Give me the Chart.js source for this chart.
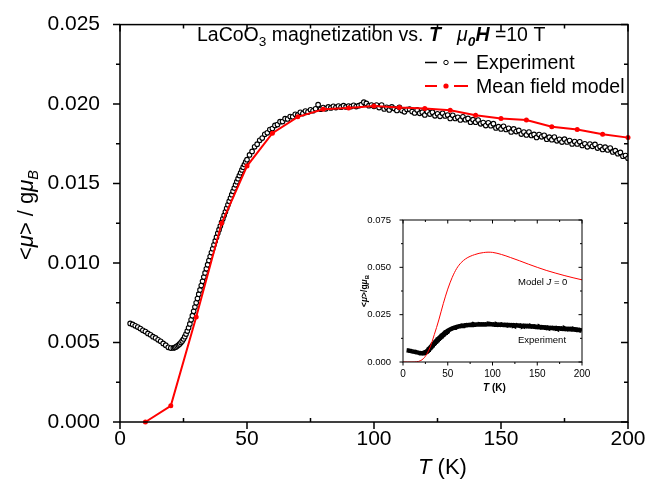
<!DOCTYPE html>
<html>
<head>
<meta charset="utf-8">
<script src="https://cdn.jsdelivr.net/npm/chart.js@4.4.0/dist/chart.umd.min.js"></script>
<style>
  html, body { margin: 0; padding: 0; background: #fff; }
  #wrap { position: relative; width: 646px; height: 483px; }
  #main { position: absolute; left: 0; top: 0; }
  #inset { position: absolute; left: 355px; top: 205px; }
</style>
</head>
<body>
<div id="wrap">
  <canvas id="main" width="646" height="483"></canvas>
  <canvas id="inset" width="245" height="195"></canvas>
</div>
<script>
// ---- Measured magnetization of LaCoO3 at 10 T (temperature in K, <mu>/g mu_B) ----
const expT = [
  4, 5, 6, 7, 8, 9, 10, 11, 12, 13, 14, 15, 16, 17, 18, 19, 20, 21,
  21.5, 22, 22.5, 23, 23.5, 24, 24.5, 25, 25.5, 26, 26.5, 27, 27.5, 28, 28.5, 29, 29.5,
  30, 30.5, 31, 31.5, 32, 32.5, 33, 33.5, 34, 34.5, 35, 35.5, 36, 36.5, 37, 37.5,
  38, 38.5, 39, 39.5, 40, 40.5, 41, 41.5, 42, 42.5, 43, 43.5, 44, 44.5, 45, 45.5,
  46, 46.5, 47, 47.5, 48, 48.5, 49, 49.5, 50,
  51, 52, 53, 54, 55, 56, 57, 58, 59, 60, 61, 62, 63, 64, 65, 66, 67, 68, 69, 70,
  71, 72, 73, 74, 75, 76, 77, 78, 79, 80, 81, 82, 83, 84, 85, 86, 87, 88, 89, 90,
  91, 92, 93, 94, 95, 96, 97, 98, 99, 100, 101, 102, 103, 104, 105, 106, 107, 108, 109, 110,
  111, 112, 113, 114, 115, 116, 117, 118, 119, 120, 121, 122, 123, 124, 125, 126, 127, 128, 129, 130,
  131, 132, 133, 134, 135, 136, 137, 138, 139, 140, 141, 142, 143, 144, 145, 146, 147, 148, 149, 150,
  151, 152, 153, 154, 155, 156, 157, 158, 159, 160, 161, 162, 163, 164, 165, 166, 167, 168, 169, 170,
  171, 172, 173, 174, 175, 176, 177, 178, 179, 180, 181, 182, 183, 184, 185, 186, 187, 188, 189, 190,
  191, 192, 193, 194, 195, 196, 197, 198, 199, 200
];
const expM = [
  0.00620, 0.00614, 0.00605, 0.00597, 0.00588, 0.00577, 0.00569, 0.00557, 0.00549, 0.00537, 0.00529, 0.00517, 0.00508, 0.00494, 0.00483, 0.00470, 0.00465, 0.00466,
  0.00468, 0.00472, 0.00478, 0.00484, 0.00491, 0.00500, 0.00510, 0.00522, 0.00537, 0.00553, 0.00572, 0.00593, 0.00617, 0.00643, 0.00669, 0.00696, 0.00723,
  0.00750, 0.00777, 0.00804, 0.00831, 0.00858, 0.00885, 0.00912, 0.00938, 0.00964, 0.00990, 0.01016, 0.01041, 0.01066, 0.01090, 0.01115, 0.01139,
  0.01163, 0.01187, 0.01210, 0.01233, 0.01256, 0.01278, 0.01300, 0.01322, 0.01344, 0.01366, 0.01388, 0.01409, 0.01430, 0.01451, 0.01472, 0.01492,
  0.01512, 0.01531, 0.01550, 0.01568, 0.01586, 0.01603, 0.01620, 0.01636, 0.01650,
  0.01680, 0.01702, 0.01731, 0.01748, 0.01772, 0.01786, 0.01810, 0.01819, 0.01840, 0.01846, 0.01866, 0.01871, 0.01889, 0.01890, 0.01908, 0.01906, 0.01922, 0.01920, 0.01936, 0.01932,
  0.01948, 0.01940, 0.01956, 0.01950, 0.01964, 0.01958, 0.01970, 0.01996, 0.01968, 0.01978, 0.01970, 0.01982, 0.01976, 0.01986, 0.01978, 0.01988, 0.01980, 0.01990, 0.01982, 0.01988,
  0.01984, 0.01992, 0.01984, 0.01990, 0.01996, 0.02012, 0.02004, 0.01990, 0.01994, 0.01986, 0.01994, 0.01978, 0.01994, 0.01969, 0.01980, 0.01963, 0.01982, 0.01972, 0.01960, 0.01980,
  0.01959, 0.01951, 0.01966, 0.01968, 0.01953, 0.01944, 0.01963, 0.01942, 0.01949, 0.01932, 0.01952, 0.01937, 0.01949, 0.01926, 0.01939, 0.01923, 0.01942, 0.01925, 0.01931, 0.01910,
  0.01929, 0.01910, 0.01917, 0.01900, 0.01920, 0.01902, 0.01910, 0.01886, 0.01902, 0.01886, 0.01900, 0.01876, 0.01884, 0.01865, 0.01882, 0.01864, 0.01877, 0.01850, 0.01858, 0.01844,
  0.01860, 0.01840, 0.01848, 0.01825, 0.01844, 0.01827, 0.01834, 0.01811, 0.01824, 0.01806, 0.01824, 0.01803, 0.01809, 0.01790, 0.01808, 0.01794, 0.01804, 0.01779, 0.01792, 0.01776,
  0.01793, 0.01769, 0.01778, 0.01761, 0.01779, 0.01762, 0.01771, 0.01749, 0.01764, 0.01749, 0.01763, 0.01740, 0.01750, 0.01731, 0.01749, 0.01734, 0.01746, 0.01723, 0.01733, 0.01715,
  0.01729, 0.01711, 0.01723, 0.01699, 0.01707, 0.01688, 0.01696, 0.01672, 0.01676, 0.01660
];

// ---- Mean field model (10 K grid) ----
const modelT = [10, 20, 30, 40, 50, 60, 70, 80, 90, 100, 110, 120, 130, 140, 150, 160, 170, 180, 190, 200];
const modelM = [0, 0.00102, 0.0066, 0.0125, 0.0161, 0.01817, 0.0192, 0.01967, 0.01976, 0.01988,
                0.01978, 0.01972, 0.01961, 0.0193, 0.0191, 0.019, 0.01858, 0.0184, 0.0181, 0.01789];

// ---- Model with J = 0 (inset) ----
const zeroJT = [0, 5, 10, 15, 20, 25, 30, 35, 40, 45, 50, 55, 60, 65, 70, 75, 80, 85, 90, 95, 100,
                110, 120, 130, 140, 150, 160, 170, 180, 190, 200];
const zeroJM = [0, 0, 0, 0.0001, 0.0008, 0.003, 0.0075, 0.0145, 0.0222, 0.0308, 0.0385, 0.0447, 0.0494, 0.0525, 0.0545, 0.0558, 0.0567, 0.0574, 0.0578, 0.0580, 0.0579,
                0.0568, 0.0552, 0.0535, 0.0517, 0.0500, 0.0484, 0.0470, 0.0457, 0.0445, 0.0434];

// ---- Tick values ----
const mainXTicks = [0, 50, 100, 150, 200];
const mainYTicks = [0, 0.005, 0.010, 0.015, 0.020, 0.025];
const insetXTicks = [0, 50, 100, 150, 200];
const insetYTicks = [0, 0.025, 0.050, 0.075];

const FONT = "'Liberation Sans', Arial, Helvetica, sans-serif";
Chart.defaults.font.family = FONT;
Chart.defaults.color = '#000';

const pts = (xs, ys) => xs.map((x, i) => ({ x: x, y: ys[i] }));

function drawRich(ctx, x, y, parts) {
  for (const p of parts) {
    ctx.font = p.font;
    ctx.fillText(p.t, x, y + (p.dy || 0));
    x += ctx.measureText(p.t).width;
  }
}
function richWidth(ctx, parts) {
  let w = 0;
  for (const p of parts) { ctx.font = p.font; w += ctx.measureText(p.t).width; }
  return w;
}

// Box frame with ticks: left/bottom ticks point out, top/right ticks point in.
function frameTicks(id, lw, maj, min, bottomMinorIn) {
  return {
    id: id,
    afterDatasetsDraw(chart) {
      const { ctx, chartArea: a, scales: { x, y } } = chart;
      const xs = x.ticks.map(t => t.value), ys = y.ticks.map(t => t.value);
      const xMin = [], yMin = [];
      for (let i = 0; i < xs.length - 1; i++) xMin.push((xs[i] + xs[i + 1]) / 2);
      for (let i = 0; i < ys.length - 1; i++) yMin.push((ys[i] + ys[i + 1]) / 2);
      ctx.save();
      ctx.strokeStyle = '#000';
      ctx.lineWidth = lw;
      ctx.beginPath();
      xs.forEach(v => {
        const p = x.getPixelForValue(v);
        ctx.moveTo(p, a.bottom); ctx.lineTo(p, a.bottom + maj);
        ctx.moveTo(p, a.top); ctx.lineTo(p, a.top + maj);
      });
      xMin.forEach(v => {
        const p = x.getPixelForValue(v);
        if (bottomMinorIn) { ctx.moveTo(p, a.bottom); ctx.lineTo(p, a.bottom - min); }
        else { ctx.moveTo(p, a.bottom); ctx.lineTo(p, a.bottom + min); }
        ctx.moveTo(p, a.top); ctx.lineTo(p, a.top + min);
      });
      ys.forEach(v => {
        const p = y.getPixelForValue(v);
        ctx.moveTo(a.left - maj, p); ctx.lineTo(a.left, p);
        ctx.moveTo(a.right, p); ctx.lineTo(a.right - maj, p);
      });
      yMin.forEach(v => {
        const p = y.getPixelForValue(v);
        ctx.moveTo(a.left - min, p); ctx.lineTo(a.left, p);
        ctx.moveTo(a.right, p); ctx.lineTo(a.right - min, p);
      });
      ctx.stroke();
      ctx.strokeRect(a.left, a.top, a.right - a.left, a.bottom - a.top);
      ctx.restore();
    }
  };
}

// Titles, axis captions and the legend of the main panel.
const mainText = {
  id: 'mainText',
  afterDraw(chart) {
    const ctx = chart.ctx;
    ctx.save();
    ctx.fillStyle = '#000';
    ctx.textBaseline = 'alphabetic';
    const f = 19.5;
    drawRich(ctx, 197, 41, [
      { t: 'LaCoO', font: `${f}px ${FONT}` },
      { t: '3', font: `${f * 0.7}px ${FONT}`, dy: 5 },
      { t: ' magnetization vs. ', font: `${f}px ${FONT}` },
      { t: 'T', font: `italic bold ${f}px ${FONT}` },
      { t: '   ', font: `${f}px ${FONT}` },
      { t: '\u03bc', font: `italic ${f}px ${FONT}` },
      { t: '0', font: `italic bold ${f * 0.7}px ${FONT}`, dy: 5 },
      { t: 'H', font: `italic bold ${f}px ${FONT}` },
      { t: ' =10 T', font: `${f}px ${FONT}` }
    ]);

    // legend
    ctx.lineWidth = 1.5;
    ctx.strokeStyle = '#000';
    ctx.beginPath();
    ctx.moveTo(425, 62.5); ctx.lineTo(437, 62.5);
    ctx.moveTo(454, 62.5); ctx.lineTo(467, 62.5);
    ctx.stroke();
    ctx.lineWidth = 1;
    ctx.beginPath(); ctx.arc(446, 62.5, 2.2, 0, Math.PI * 2); ctx.stroke();
    ctx.strokeStyle = '#ff0000';
    ctx.fillStyle = '#ff0000';
    ctx.lineWidth = 2;
    ctx.beginPath();
    ctx.moveTo(425, 86); ctx.lineTo(437, 86);
    ctx.moveTo(454, 86); ctx.lineTo(468, 86);
    ctx.stroke();
    ctx.beginPath(); ctx.arc(446, 86, 2.6, 0, Math.PI * 2); ctx.fill();
    ctx.fillStyle = '#000';
    ctx.font = `19.5px ${FONT}`;
    ctx.fillText('Experiment', 476, 69);
    ctx.fillText('Mean field model', 476, 92.5);

    // x axis caption
    drawRich(ctx, 418, 474, [
      { t: 'T', font: `italic 22px ${FONT}` },
      { t: ' (K)', font: `22px ${FONT}` }
    ]);

    // y axis caption (rotated)
    const yParts = [
      { t: '<', font: `22px ${FONT}` },
      { t: '\u03bc', font: `italic 22px ${FONT}` },
      { t: '> / g', font: `22px ${FONT}` },
      { t: '\u03bc', font: `italic 22px ${FONT}` },
      { t: 'B', font: `italic 14.5px ${FONT}`, dy: 5 }
    ];
    ctx.translate(33, 215);
    ctx.rotate(-Math.PI / 2);
    drawRich(ctx, -richWidth(ctx, yParts) / 2, 0, yParts);
    ctx.restore();
  }
};

new Chart(document.getElementById('main'), {
  type: 'line',
  data: {
    datasets: [
      {
        label: 'Mean field model',
        data: pts(modelT, modelM),
        borderColor: '#ff0000',
        backgroundColor: '#ff0000',
        borderWidth: 2,
        pointRadius: 2.5,
        pointBorderWidth: 0,
        pointBackgroundColor: '#ff0000',
        clip: 6,
        order: 0
      },
      {
        label: 'Experiment',
        data: pts(expT, expM),
        borderColor: '#000',
        borderWidth: 1,
        pointRadius: 2.3,
        pointBorderWidth: 1.1,
        pointBorderColor: '#000',
        pointBackgroundColor: '#fff',
        order: 1
      }
    ]
  },
  options: {
    responsive: false,
    animation: false,
    events: [],
    layout: { padding: { left: 0, right: 18, top: 18, bottom: 0 } },
    plugins: { legend: { display: false }, tooltip: { enabled: false } },
    scales: {
      x: {
        type: 'linear', min: 0, max: 200,
        afterBuildTicks: s => { s.ticks = mainXTicks.map(v => ({ value: v })); },
        afterFit: s => { s.height = 61; },
        grid: { display: false },
        border: { display: false },
        ticks: { font: { size: 21 }, padding: -3, maxRotation: 0, color: '#000' }
      },
      y: {
        type: 'linear', min: 0, max: 0.025,
        afterBuildTicks: s => { s.ticks = mainYTicks.map(v => ({ value: v })); },
        afterFit: s => { s.width = 120; },
        grid: { display: false },
        border: { display: false },
        ticks: { font: { size: 21 }, padding: 12, color: '#000', callback: v => v.toFixed(3) }
      }
    }
  },
  plugins: [frameTicks('mainFrame', 1.5, 7, 4, true), mainText]
});

// ---- Inset ----
const insetText = {
  id: 'insetText',
  afterDraw(chart) {
    const ctx = chart.ctx;
    ctx.save();
    ctx.fillStyle = '#000';
    ctx.textBaseline = 'alphabetic';
    drawRich(ctx, 163, 80, [
      { t: 'Model ', font: `9.5px ${FONT}` },
      { t: 'J', font: `italic 9.5px ${FONT}` },
      { t: ' = 0', font: `9.5px ${FONT}` }
    ]);
    ctx.font = `9.5px ${FONT}`;
    ctx.fillText('Experiment', 163, 138);
    drawRich(ctx, 128, 186, [
      { t: 'T', font: `italic bold 10px ${FONT}` },
      { t: ' (K)', font: `bold 10px ${FONT}` }
    ]);
    const parts = [
      { t: '<', font: `bold 8.5px ${FONT}` },
      { t: '\u03bc', font: `italic bold 8.5px ${FONT}` },
      { t: '>/g', font: `bold 8.5px ${FONT}` },
      { t: '\u03bc', font: `italic bold 8.5px ${FONT}` },
      { t: 'B', font: `bold 6px ${FONT}`, dy: 2 }
    ];
    ctx.translate(12, 86);
    ctx.rotate(-Math.PI / 2);
    drawRich(ctx, -richWidth(ctx, parts) / 2, 0, parts);
    ctx.restore();
  }
};

new Chart(document.getElementById('inset'), {
  type: 'line',
  data: {
    datasets: [
      {
        label: 'Model J = 0',
        data: pts(zeroJT, zeroJM),
        borderColor: '#ff0000',
        borderWidth: 1,
        pointRadius: 0,
        cubicInterpolationMode: 'monotone',
        order: 0
      },
      {
        label: 'Experiment',
        data: pts(expT, expM),
        borderColor: '#000',
        borderWidth: 4.5,
        pointRadius: 0,
        order: 1
      }
    ]
  },
  options: {
    responsive: false,
    animation: false,
    events: [],
    layout: { padding: { left: 0, right: 18, top: 15, bottom: 0 } },
    plugins: { legend: { display: false }, tooltip: { enabled: false } },
    scales: {
      x: {
        type: 'linear', min: 0, max: 200,
        afterBuildTicks: s => { s.ticks = insetXTicks.map(v => ({ value: v })); },
        afterFit: s => { s.height = 38; },
        grid: { display: false },
        border: { display: false },
        ticks: { font: { size: 10 }, padding: -2, maxRotation: 0, color: '#000' }
      },
      y: {
        type: 'linear', min: 0, max: 0.075,
        afterBuildTicks: s => { s.ticks = insetYTicks.map(v => ({ value: v })); },
        afterFit: s => { s.width = 48; },
        grid: { display: false },
        border: { display: false },
        ticks: { font: { size: 9.5 }, padding: 4, color: '#000', callback: v => v.toFixed(3) }
      }
    }
  },
  plugins: [frameTicks('insetFrame', 1, 3.5, 2, false), insetText]
});
</script>
</body>
</html>
